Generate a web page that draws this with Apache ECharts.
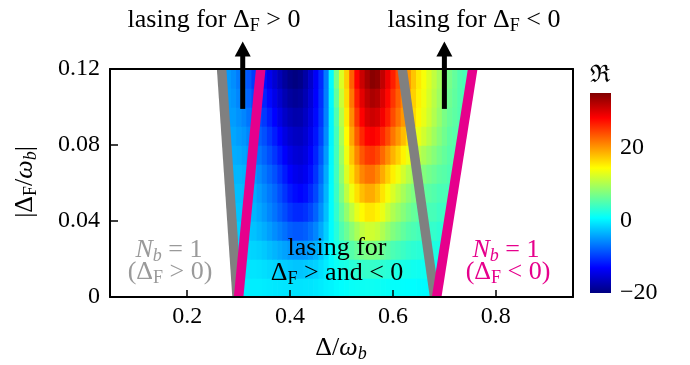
<!DOCTYPE html>
<html><head><meta charset="utf-8">
<script src="https://cdn.jsdelivr.net/npm/echarts@6/dist/echarts.min.js"></script>
<style>html,body{margin:0;padding:0;background:#fff}#c{width:690px;height:365px}</style>
</head><body><div id="c"></div>
<script>
// ---- data ----
const xCenters = [0.26,0.27,0.28,0.29,0.30,0.31,0.32,0.33,0.34,0.35,0.36,0.37,0.38,0.39,0.40,0.41,0.42,0.43,0.44,0.45,0.46,0.47,0.48,0.49,0.50,0.51,0.52,0.53,0.54,0.55,0.56,0.57,0.58,0.59,0.60,0.61,0.62,0.63,0.64,0.65,0.66,0.67,0.68,0.69,0.70,0.71,0.72,0.73,0.74,0.75,0.76];
const yCenters = [0.005,0.015,0.025,0.035,0.045,0.055,0.065,0.075,0.085,0.095,0.105,0.115];
const r005 = [-0.3,-0.3,-0.3,-0.3,-0.3,-0.3,-0.3,-0.3,-0.3,-0.4,-0.5,-0.6,-0.7,-0.8,-0.8,-0.9,-0.9,-0.8,-0.8,-0.6,-0.4,-0.1,0.1,0.4,0.6,0.8,1,1.1,1.2,1.3,1.3,1.2,1.1,1,0.8,0.8,0.7,0.6,0.6,0.5,0.5,0.4,0.4,0.4,0.4,0.4,0.4,0.4,0.4,0.4,0.4];
const r015 = [-0.7,-0.7,-0.7,-0.7,-0.7,-0.7,-0.8,-0.8,-0.9,-1.1,-1.4,-1.6,-1.9,-2.1,-2.3,-2.5,-2.5,-2.3,-2.1,-1.8,-1.1,-0.4,0.4,1.1,1.8,2.1,2.7,3,3.4,3.5,3.5,3.4,3,2.7,2.3,2.1,1.9,1.7,1.5,1.4,1.3,1.2,1.1,1.1,1.1,1.1,1.1,1.1,1.1,1.1,1.1];
const r025 = [-1.4,-1.4,-1.4,-1.4,-1.4,-1.5,-1.6,-1.7,-1.9,-2.3,-2.9,-3.4,-3.9,-4.4,-4.9,-5.1,-5.1,-4.9,-4.4,-3.6,-2.4,-1,0.5,1.9,3.3,4.1,5.2,6.1,6.9,7.3,7.3,7,6.2,5.5,4.7,4.3,3.8,3.3,3,2.8,2.5,2.3,2.2,2,2,2,2,2,2,2,2];
const r035 = [-2.1,-2.1,-2.1,-2.1,-2.1,-2.4,-2.5,-2.7,-3.2,-3.8,-4.6,-5.5,-6.3,-7.1,-8,-8.4,-8.4,-8,-7.1,-5.9,-4.1,-2,0.5,2.6,4.8,6.4,8.1,9.7,11,11.8,11.8,11.3,10.1,8.8,7.6,6.8,5.9,5.1,4.7,4.3,3.8,3.4,3.4,3,3,3,3,3,3,3,3];
const r045 = [-2.6,-2.6,-2.6,-2.6,-2.6,-2.9,-3.1,-3.4,-4.1,-4.9,-5.9,-6.9,-8,-9.1,-10.3,-10.9,-11,-10.5,-9.4,-7.8,-5.5,-2.8,0.5,3.3,6.1,8.6,10.9,13,14.6,15.6,15.6,14.9,13.3,11.6,10.1,9,7.9,6.8,6.1,5.5,5,4.5,4.4,3.9,3.9,3.8,3.8,3.8,3.8,3.8,3.8];
const r055 = [-2.9,-2.9,-2.9,-2.9,-2.9,-3.1,-3.4,-3.8,-4.7,-5.6,-6.6,-7.6,-9,-10.4,-11.8,-12.6,-13,-12.5,-11.1,-9.3,-6.5,-3.3,0.5,3.8,7.4,10.9,13.6,16,17.9,18.9,18.9,17.6,15.8,13.9,12.4,11,9.6,8.3,7.4,6.5,6,5.5,5.1,4.6,4.6,4.3,4.3,4.3,4.3,4.3,4.3];
const r065 = [-3.3,-3.3,-3.3,-3.3,-3.3,-3.6,-4,-4.6,-5.6,-6.6,-7.7,-8.8,-10.3,-11.8,-13.2,-14.1,-14.5,-13.9,-12.4,-10.4,-7.5,-3.9,0.4,4.1,8.3,12.5,15.9,18.7,20.9,22,22.1,20.8,18.9,16.9,15.2,13.6,12,10.4,9.4,8.3,7.6,6.9,6.3,5.6,5.3,4.8,4.7,4.6,4.5,4.4,4.4];
const r075 = [-3.8,-3.8,-3.8,-3.8,-4,-4.4,-5,-5.8,-6.8,-7.8,-9,-10.3,-11.8,-13.3,-14.5,-15.3,-15.5,-14.8,-13.3,-11.3,-8.5,-4.8,0.3,4.3,9,13.5,17.5,21,23.5,25,25.3,24.3,22.5,20.5,18.5,16.8,15,13.3,12,10.8,9.8,8.8,7.8,6.8,6,5.3,5,4.8,4.5,4.3,4.3];
const r085 = [-4.2,-4.2,-4.2,-4.2,-4.7,-5.1,-6,-6.9,-7.9,-8.9,-10.3,-11.7,-13.2,-14.7,-15.8,-16.4,-16.5,-15.6,-14.1,-12.1,-9.5,-5.6,0.1,4.4,9.7,14.5,19.2,23.3,26.1,28,28.4,27.7,26.1,24.1,21.8,19.9,18,16.1,14.6,13.2,11.9,10.6,9.2,7.9,6.7,5.7,5.3,4.9,4.5,4.1,4.1];
const r095 = [-4.6,-4.6,-4.6,-4.7,-5.3,-5.9,-6.9,-8,-9.1,-10.1,-11.6,-13.1,-14.6,-16.1,-17.1,-17.6,-17.5,-16.4,-14.8,-12.7,-10.2,-6.1,0.1,5,10.5,15.4,20.6,25.2,28.2,30.2,30.9,30.4,28.7,26.6,24.1,22,20,18,16.3,14.7,13.2,11.7,10.2,8.7,7.2,6.2,5.6,5,4.5,4,3.9];
const r105 = [-4.8,-4.8,-4.7,-5.1,-5.9,-6.7,-7.7,-9,-10.3,-11.3,-12.8,-14.3,-15.8,-17.3,-18.3,-18.8,-18.5,-17.2,-15.4,-13.1,-10.6,-6.3,0.3,6,11.5,16.2,21.8,26.6,29.6,31.6,32.7,32.2,30.1,27.8,25.3,23,21,19,16.9,15.1,13.6,12.1,10.6,9.1,7.6,6.6,5.8,5,4.5,4,3.7];
const r115 = [-5,-5,-4.8,-5.5,-6.5,-7.5,-8.5,-10,-11.5,-12.5,-14,-15.5,-17,-18.5,-19.5,-20,-19.5,-18,-16,-13.5,-11,-6.5,0.5,7,12.5,17,23,28,31,33,34.5,34,31.5,29,26.5,24,22,20,17.5,15.5,14,12.5,11,9.5,8,7,6,5,4.5,4,3.5];
const rows = [r005,r015,r025,r035,r045,r055,r065,r075,r085,r095,r105,r115];

// boundary lines (x at y = 0 and y = 0.12)
const boundaryY = [0, 0.12];
const grayLeftX = [0.297, 0.267];
const magentaLeftX = [0.300, 0.343];
const grayRightX = [0.681, 0.618];
const magentaRightX = [0.685, 0.755];
// arrows
const arrowX = [0.308, 0.700];
const arrowBaseY = 0.099, arrowTipY = 0.1345;

// axes
const xRange = [0.05, 0.95];
const yRange = [0, 0.12];
const xTicks = [0.2, 0.4, 0.6, 0.8];
const yTicks = [0, 0.04, 0.08, 0.12];
const cRange = [-20, 35];
const cTicks = [-20, 0, 20];

// ---- chart ----
const F = "'Liberation Serif','DejaVu Serif',serif";
const GRAY_T = '#9a9a9a', MAG = '#e6008c', GRAY_L = '#808080';
const jet = ['#000080','#0000ff','#0080ff','#00ffff','#80ff80','#ffff00','#ff8000','#ff0000','#800000'];

const cells = [];
rows.forEach((row, j) => row.forEach((v, i) => cells.push([xCenters[i], yCenters[j], v])));
const dx = xCenters[1] - xCenters[0], dy = yCenters[1] - yCenters[0];

function lineSer(xs, color) {
  return {type:'line', data: xs.map((x,k)=>[x, boundaryY[k]]), symbol:'none', showSymbol:false,
    lineStyle:{color, width:9.5}, silent:true, animation:false};
}
const richDefs = (size) => ({
  sub:{fontSize:18, fontFamily:F, verticalAlign:'bottom', lineHeight:18},
  it:{fontSize:size, fontFamily:F, fontStyle:'italic'},
  itsub:{fontSize:18, fontFamily:F, fontStyle:'italic', verticalAlign:'bottom', lineHeight:18}
});
function txt(text, x, y, fill, extra, size) {
  size = size || 26;
  return Object.assign({type:'text', x, y, silent:true, z:20,
    style:{text, fill, fontSize:size, fontFamily:F, align:'center', verticalAlign:'middle', lineHeight:31, rich:richDefs(size)}}, extra||{});
}

const chart = echarts.init(document.getElementById('c'), null, {renderer:'canvas'});
chart.setOption({
  animation:false,
  backgroundColor:'#fff',
  grid:[
    {left:110, top:69, width:463, height:228},
    {left:590, top:93, width:21, height:200}
  ],
  xAxis:[
    {gridIndex:0, type:'value', min:xRange[0], max:xRange[1], position:'bottom', z:10,
      axisLine:{show:true, onZero:false, lineStyle:{color:'#000', width:2}},
      axisTick:{show:true, inside:true, length:7, customValues:xTicks, lineStyle:{color:'#000', width:1.5}},
      axisLabel:{customValues:xTicks, color:'#000', fontFamily:F, fontSize:24, margin:8},
      splitLine:{show:false}},
    {gridIndex:0, type:'value', min:xRange[0], max:xRange[1], position:'top', z:10,
      axisLine:{show:true, onZero:false, lineStyle:{color:'#000', width:2}},
      axisTick:{show:false}, axisLabel:{show:false}, splitLine:{show:false}},
    {gridIndex:1, type:'value', min:0, max:1, show:false}
  ],
  yAxis:[
    {gridIndex:0, type:'value', min:yRange[0], max:yRange[1], interval:0.04, position:'left', z:10,
      axisLine:{show:true, onZero:false, lineStyle:{color:'#000', width:2}},
      axisTick:{show:true, inside:true, length:8, customValues:yTicks, lineStyle:{color:'#000', width:1.5}},
      axisLabel:{customValues:yTicks, color:'#000', fontFamily:F, fontSize:24, margin:10},
      splitLine:{show:false}},
    {gridIndex:0, type:'value', min:yRange[0], max:yRange[1], position:'right', z:10,
      axisLine:{show:true, onZero:false, lineStyle:{color:'#000', width:2}},
      axisTick:{show:false}, axisLabel:{show:false}, splitLine:{show:false}},
    {gridIndex:1, type:'value', min:cRange[0], max:cRange[1], position:'right',
      axisLine:{show:false}, axisTick:{show:false}, splitLine:{show:false},
      axisLabel:{customValues:cTicks, color:'#000', fontFamily:F, fontSize:24, margin:9,
        formatter:(v)=> v < 0 ? '\u2212' + Math.abs(v) : String(v)}}
  ],
  visualMap:{type:'continuous', show:false, seriesIndex:0, dimension:2, min:cRange[0], max:cRange[1], inRange:{color:jet}},
  series:[
    {type:'custom', xAxisIndex:0, yAxisIndex:0, data:cells, silent:true,
      renderItem:(p, api)=>{
        const x = api.value(0), y = api.value(1);
        const a = api.coord([x - dx/2, y + dy/2]);
        const b = api.coord([x + dx/2, y - dy/2]);
        return {type:'rect', shape:{x:a[0], y:a[1], width:b[0]-a[0]+0.7, height:b[1]-a[1]+0.7},
          style:{fill:api.visual('color')}};
      }},
    {type:'custom', data:[[xRange[0], yRange[0]]], silent:true,
      renderItem:(p, api)=>({type:'polygon', shape:{points:[
        api.coord([xRange[0], yRange[0]]), api.coord([grayLeftX[0], boundaryY[0]]),
        api.coord([grayLeftX[1], boundaryY[1]]), api.coord([xRange[0], yRange[1]])]}, style:{fill:'#fff'}})},
    {type:'custom', data:[[xRange[1], yRange[0]]], silent:true,
      renderItem:(p, api)=>({type:'polygon', shape:{points:[
        api.coord([magentaRightX[0], boundaryY[0]]), api.coord([magentaRightX[1], boundaryY[1]]),
        api.coord([xRange[1], yRange[1]]), api.coord([xRange[1], yRange[0]])]}, style:{fill:'#fff'}})},
    lineSer(grayLeftX, GRAY_L),
    lineSer(grayRightX, GRAY_L),
    lineSer(magentaLeftX, MAG),
    lineSer(magentaRightX, MAG),
    {type:'custom', data:arrowX.map(x=>[x, arrowBaseY, arrowTipY]), silent:true, z:15,
      renderItem:(p, api)=>{
        const x = api.value(0);
        const b = api.coord([x, api.value(1)]), t = api.coord([x, api.value(2)]);
        const head = 15, hw = 8, sw = 5;
        return {type:'group', children:[
          {type:'rect', shape:{x:b[0]-sw/2, y:t[1]+head-1, width:sw, height:b[1]-t[1]-head+1}, style:{fill:'#000'}},
          {type:'polygon', shape:{points:[[t[0], t[1]], [t[0]-hw, t[1]+head], [t[0]+hw, t[1]+head]]}, style:{fill:'#000'}}
        ]};
      }},
    {type:'custom', xAxisIndex:2, yAxisIndex:2, data:[[0, cRange[0]]], silent:true,
      renderItem:(p, api)=>{
        const a = api.coord([0, cRange[1]]), b = api.coord([1, cRange[0]]);
        return {type:'rect', shape:{x:a[0], y:a[1], width:b[0]-a[0], height:b[1]-a[1]},
          style:{fill:new echarts.graphic.LinearGradient(0,1,0,0, jet.map((c,i)=>({offset:i/(jet.length-1), color:c})))}};
      }}
  ],
  graphic:[
    txt('lasing for Δ{sub|F} > 0', 214, 20, '#000'),
    txt('lasing for Δ{sub|F} < 0', 474, 20, '#000'),
    txt('{it|N}{itsub|b} = 1', 169, 250, GRAY_T),
    txt('(Δ{sub|F} > 0)', 170, 272, GRAY_T),
    txt('lasing for', 337, 248, '#000'),
    txt('Δ{sub|F} > and < 0', 337, 273, '#000'),
    txt('{it|N}{itsub|b} = 1', 506, 250, MAG),
    txt('(Δ{sub|F} < 0)', 508, 272, MAG),
    txt('Δ/{it|ω}{itsub|b}', 341, 348, '#000'),
    txt('|Δ{sub|F}/{it|ω}{itsub|b}|', 25, 182, '#000', {rotation:Math.PI/2}),
    txt('\u211C', 600, 76, '#000', null, 24)
  ]
});
</script></body></html>
